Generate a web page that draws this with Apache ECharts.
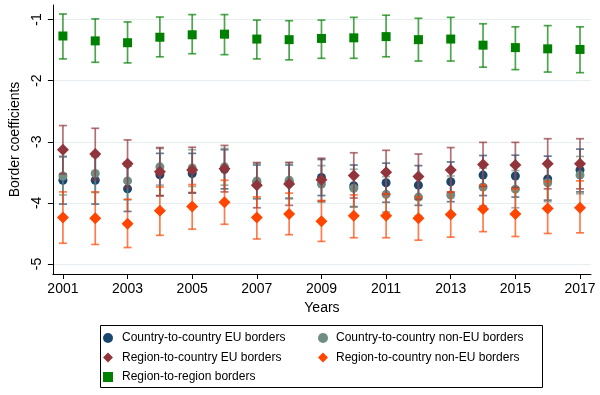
<!DOCTYPE html>
<html><head><meta charset="utf-8">
<script src="https://cdn.jsdelivr.net/npm/echarts@6/dist/echarts.min.js"></script>
<style>html,body{margin:0;padding:0;background:#fff}#c{width:600px;height:395px}</style>
</head><body><div id="c"></div>
<script>
const years = [2001,2002,2003,2004,2005,2006,2007,2008,2009,2010,2011,2012,2013,2014,2015,2016,2017];
const xTicks = [2001,2003,2005,2007,2009,2011,2013,2015,2017];
const yTicks = [-5,-4,-3,-2,-1];

const ccEuEst = [-3.63,-3.63,-3.77,-3.54,-3.52,-3.45,-3.66,-3.66,-3.585,-3.72,-3.67,-3.71,-3.655,-3.545,-3.56,-3.61,-3.46];
const ccEuHi  = [-3.24,-3.24,-3.40,-3.19,-3.19,-3.13,-3.38,-3.38,-3.29,-3.38,-3.35,-3.39,-3.33,-3.225,-3.22,-3.235,-3.12];
const ccEuLo  = [-4.02,-4.02,-4.14,-3.88,-3.84,-3.77,-3.93,-3.93,-3.88,-4.06,-3.99,-4.04,-3.98,-3.88,-3.905,-3.955,-3.82];

const ccNonEst = [-3.56,-3.52,-3.64,-3.41,-3.43,-3.41,-3.64,-3.63,-3.69,-3.76,-3.86,-3.905,-3.87,-3.74,-3.775,-3.67,-3.545];
const ccNonHi  = [-3.25,-3.21,-3.33,-3.11,-3.13,-3.11,-3.35,-3.34,-3.39,-3.45,-3.57,-3.60,-3.56,-3.43,-3.47,-3.36,-3.24];
const ccNonLo  = [-3.87,-3.83,-3.95,-3.71,-3.73,-3.71,-3.93,-3.92,-3.99,-4.07,-4.15,-4.21,-4.18,-4.05,-4.08,-3.98,-3.85];

const rcEuEst = [-3.13,-3.20,-3.36,-3.49,-3.46,-3.44,-3.71,-3.69,-3.62,-3.55,-3.50,-3.57,-3.46,-3.37,-3.38,-3.36,-3.36];
const rcEuHi  = [-2.735,-2.78,-2.97,-3.095,-3.09,-3.06,-3.34,-3.34,-3.27,-3.18,-3.14,-3.20,-3.095,-3.01,-3.01,-2.95,-2.95];
const rcEuLo  = [-3.525,-3.62,-3.75,-3.885,-3.83,-3.82,-4.08,-4.04,-3.97,-3.92,-3.86,-3.94,-3.825,-3.73,-3.75,-3.77,-3.77];

const rcNonEst = [-4.24,-4.25,-4.34,-4.13,-4.06,-3.99,-4.24,-4.18,-4.30,-4.21,-4.21,-4.25,-4.19,-4.10,-4.18,-4.09,-4.08];
const rcNonHi  = [-3.82,-3.82,-3.94,-3.74,-3.70,-3.63,-3.90,-3.84,-3.96,-3.87,-3.85,-3.90,-3.82,-3.71,-3.77,-3.65,-3.64];
const rcNonLo  = [-4.66,-4.68,-4.73,-4.53,-4.43,-4.35,-4.59,-4.52,-4.63,-4.57,-4.57,-4.61,-4.56,-4.47,-4.55,-4.50,-4.49];

const rrEst = [-1.27,-1.35,-1.38,-1.29,-1.25,-1.24,-1.32,-1.33,-1.31,-1.30,-1.28,-1.33,-1.32,-1.42,-1.46,-1.48,-1.49];
const rrHi  = [-0.91,-0.99,-1.04,-0.96,-0.92,-0.92,-1.01,-1.02,-1.01,-0.965,-0.93,-0.98,-0.965,-1.07,-1.12,-1.10,-1.12];
const rrLo  = [-1.645,-1.70,-1.71,-1.61,-1.56,-1.575,-1.645,-1.66,-1.635,-1.635,-1.61,-1.68,-1.68,-1.78,-1.82,-1.86,-1.87];

const names = ['Country-to-country EU borders','Country-to-country non-EU borders','Region-to-country EU borders','Region-to-country non-EU borders','Region-to-region borders'];
const colors = ['#1A476F','#6E8E84','#90353B','#FF4500','#008000'];
const symbols = ['circle','circle','diamond','diamond','rect'];
const sizes = [9,9,12,12,9];
const groups = [[ccEuEst,ccEuLo,ccEuHi],[ccNonEst,ccNonLo,ccNonHi],[rcEuEst,rcEuLo,rcEuHi],[rcNonEst,rcNonLo,rcNonHi],[rrEst,rrLo,rrHi]];

function errRender(color){
  return function(params, api){
    const x = api.value(0), lo = api.value(1), hi = api.value(2);
    const a = api.coord([x, hi]), b = api.coord([x, lo]);
    const hw = 4;
    const st = {stroke: color, lineWidth: 1.7, opacity: 0.7};
    return {type:'group', children:[
      {type:'line', shape:{x1:a[0],y1:a[1],x2:b[0],y2:b[1]}, style:st},
      {type:'line', shape:{x1:a[0]-hw,y1:a[1],x2:a[0]+hw,y2:a[1]}, style:st},
      {type:'line', shape:{x1:b[0]-hw,y1:b[1],x2:b[0]+hw,y2:b[1]}, style:st}
    ]};
  };
}

const series = [];
groups.forEach((g,k)=>{
  series.push({
    type:'custom', name:'ci'+k, silent:true,
    renderItem: errRender(colors[k]),
    encode:{x:0,y:[1,2]},
    data: years.map((y,i)=>[y, g[1][i], g[2][i]]),
    z: 2+k*2
  });
  series.push({
    type:'scatter', name:names[k], symbol:symbols[k], symbolSize:sizes[k],
    itemStyle:{color:colors[k], opacity:1},
    data: years.map((y,i)=>[y, g[0][i]]),
    z: 3+k*2
  });
});

const font = 'Liberation Sans, Arial, sans-serif';
const chart = echarts.init(document.getElementById('c'), null, {renderer:'canvas'});
chart.setOption({
  animation:false,
  textStyle:{fontFamily:font},
  grid:{left:52, right:9, top:5, bottom:121, containLabel:false},
  xAxis:{
    type:'value', min:2000.69, max:2017.34,
    name:'Years', nameLocation:'middle', nameGap:24,
    nameTextStyle:{fontSize:14, color:'#000', fontFamily:font},
    axisLine:{show:true, lineStyle:{color:'#000', width:1}},
    axisTick:{show:true, length:5, lineStyle:{color:'#000'}, customValues:xTicks},
    axisLabel:{fontSize:14, color:'#000', margin:8, customValues:xTicks, fontFamily:font, formatter:(v)=>String(v)},
    splitLine:{show:false}
  },
  yAxis:{
    type:'value', min:-5.163, max:-0.763,
    name:'Border coefficients', nameLocation:'middle', nameGap:27, nameRotate:90,
    nameTextStyle:{fontSize:14, color:'#000', fontFamily:font},
    axisLine:{show:true, lineStyle:{color:'#000', width:1}},
    axisTick:{show:true, length:5, lineStyle:{color:'#000'}, customValues:yTicks},
    axisLabel:{fontSize:14, color:'#000', margin:9, rotate:90, customValues:yTicks, fontFamily:font, formatter:(v)=>String(v)},
    splitLine:{show:true, lineStyle:{color:'#E6EEF2', width:1}}
  },
  legend:[
    {orient:'vertical', left:103, top:332, padding:0, itemWidth:10, itemHeight:10, itemGap:7.5,
     textStyle:{fontSize:12, color:'#000', fontFamily:font, padding:[0,0,0,4]},
     data:[names[0], names[2], names[4]], selectedMode:false},
    {orient:'vertical', left:318, top:332, padding:0, itemWidth:10, itemHeight:10, itemGap:7.5,
     textStyle:{fontSize:12, color:'#000', fontFamily:font, padding:[0,0,0,3]},
     data:[names[1], names[3]], selectedMode:false}
  ],
  graphic:[{type:'rect', shape:{x:100.5, y:325.5, width:442, height:62}, style:{fill:'none', stroke:'#000', lineWidth:1}, silent:true}],
  series: series
});
</script></body></html>
